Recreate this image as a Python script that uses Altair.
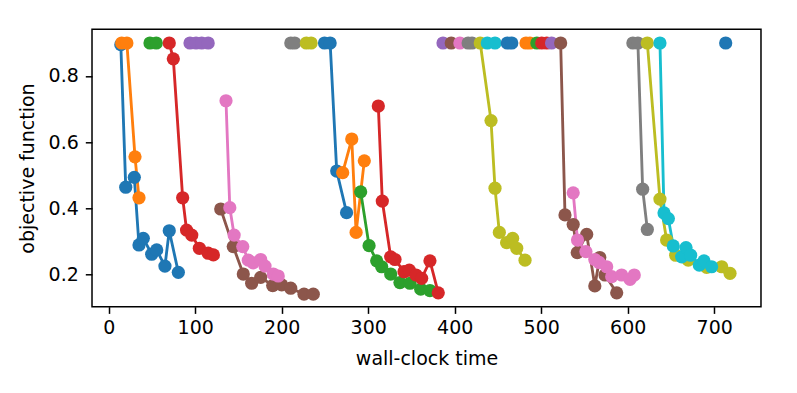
import altair as alt
import pandas as pd

# tab10 colours used for the trials
TAB10 = {
    "blue": "#1f77b4", "orange": "#ff7f0e", "green": "#2ca02c", "red": "#d62728",
    "purple": "#9467bd", "brown": "#8c564b", "pink": "#e377c2", "gray": "#7f7f7f",
    "olive": "#bcbd22", "cyan": "#17becf",
}

# each trial: colour, wall-clock times, objective values
T01_color = "blue"
T01_time = [14, 19.7, 29.6, 35, 40, 49.7, 55.5, 65, 70, 80.5]
T01_obj = [0.895, 0.463, 0.493, 0.288, 0.308, 0.26, 0.273, 0.224, 0.331, 0.205]

T02_color = "orange"
T02_time = [15, 21, 30.4, 35]
T02_obj = [0.9, 0.9, 0.555, 0.431]

T03_color = "green"
T03_time = [47.7, 55]
T03_obj = [0.9, 0.9]

T04_color = "red"
T04_time = [70, 74.7, 85.5, 90, 96, 104.8, 115, 121]
T04_obj = [0.9, 0.852, 0.431, 0.333, 0.318, 0.278, 0.263, 0.258]

T05_color = "purple"
T05_time = [94, 101, 107.5, 115]
T05_obj = [0.9, 0.9, 0.9, 0.9]

T06_color = "brown"
T06_time = [129.5, 144, 155.6, 165.3, 175.7, 189.6, 200, 210.4, 225.8, 236.5]
T06_obj = [0.397, 0.283, 0.2, 0.172, 0.19, 0.165, 0.167, 0.157, 0.139, 0.139]

T07_color = "pink"
T07_time = [135.6, 140, 145, 155, 161.4, 167, 175.7, 180.7, 190.3, 196]
T07_obj = [0.725, 0.401, 0.318, 0.283, 0.242, 0.234, 0.244, 0.224, 0.2, 0.194]

T08_color = "gray"
T08_time = [210.5, 215]
T08_obj = [0.9, 0.9]

T09_color = "olive"
T09_time = [228.5, 234]
T09_obj = [0.9, 0.9]

T10_color = "blue"
T10_time = [249.5, 256, 263.6, 275]
T10_obj = [0.9, 0.9, 0.512, 0.386]

T11_color = "orange"
T11_time = [270.5, 281, 286, 295.5]
T11_obj = [0.507, 0.609, 0.326, 0.543]

T12_color = "green"
T12_time = [291.3, 301, 309.8, 315.6, 326, 336.7, 348.3, 360.7, 371.4]
T12_obj = [0.449, 0.286, 0.24, 0.222, 0.2, 0.174, 0.172, 0.154, 0.15]

T13_color = "red"
T13_time = [311.7, 316.3, 326, 331, 341.4, 347.5, 355.3, 361.8, 371.4, 381]
T13_obj = [0.709, 0.421, 0.252, 0.244, 0.207, 0.212, 0.197, 0.187, 0.24, 0.143]

T14_color = "purple"
T14_time = [386.5]
T14_obj = [0.9]

T15_color = "brown"
T15_time = [396]
T15_obj = [0.9]

T16_color = "pink"
T16_time = [406]
T16_obj = [0.9]

T17_color = "gray"
T17_time = [415.5, 420]
T17_obj = [0.9, 0.9]

T18_color = "olive"
T18_time = [429.5, 442, 446.6, 451.6, 460, 467, 471.7, 481.3]
T18_obj = [0.9, 0.665, 0.46, 0.326, 0.295, 0.308, 0.278, 0.242]

T19_color = "cyan"
T19_time = [437.7, 446.6]
T19_obj = [0.9, 0.9]

T20_color = "blue"
T20_time = [460.8, 466]
T20_obj = [0.9, 0.9]

T21_color = "orange"
T21_time = [482.4, 487]
T21_obj = [0.9, 0.9]

T22_color = "green"
T22_time = [495]
T22_obj = [0.9]

T23_color = "red"
T23_time = [500.6, 506.4]
T23_obj = [0.9, 0.9]

T24_color = "purple"
T24_time = [512]
T24_obj = [0.9]

T25_color = "brown"
T25_time = [522.5, 527.5, 537, 541.7, 552.6, 562, 567.7, 573.8, 587.3]
T25_obj = [0.9, 0.379, 0.35, 0.265, 0.32, 0.164, 0.25, 0.197, 0.143]

T26_color = "pink"
T26_time = [537, 542, 551.7, 562, 567, 575.7, 581.5, 593, 602.7, 607.6]
T26_obj = [0.446, 0.303, 0.268, 0.244, 0.235, 0.222, 0.192, 0.197, 0.184, 0.197]

T27_color = "gray"
T27_time = [606, 611.8, 617.3, 622.7]
T27_obj = [0.9, 0.9, 0.457, 0.335]

T28_color = "olive"
T28_time = [622.7, 637.3, 645, 655.5, 670, 691.3, 708.7, 718.3]
T28_obj = [0.9, 0.427, 0.303, 0.257, 0.242, 0.22, 0.222, 0.202]

T29_color = "cyan"
T29_time = [637.3, 642, 647, 652.7, 662.4, 667.4, 672.8, 682.8, 688.2, 697]
T29_obj = [0.9, 0.385, 0.368, 0.285, 0.252, 0.28, 0.257, 0.227, 0.24, 0.222]

T30_color = "blue"
T30_time = [713.3]
T30_obj = [0.9]

x_ticks = [0, 100, 200, 300, 400, 500, 600, 700]
y_ticks = [0.2, 0.4, 0.6, 0.8]

trials = [
    (T01_color, T01_time, T01_obj), (T02_color, T02_time, T02_obj),
    (T03_color, T03_time, T03_obj), (T04_color, T04_time, T04_obj),
    (T05_color, T05_time, T05_obj), (T06_color, T06_time, T06_obj),
    (T07_color, T07_time, T07_obj), (T08_color, T08_time, T08_obj),
    (T09_color, T09_time, T09_obj), (T10_color, T10_time, T10_obj),
    (T11_color, T11_time, T11_obj), (T12_color, T12_time, T12_obj),
    (T13_color, T13_time, T13_obj), (T14_color, T14_time, T14_obj),
    (T15_color, T15_time, T15_obj), (T16_color, T16_time, T16_obj),
    (T17_color, T17_time, T17_obj), (T18_color, T18_time, T18_obj),
    (T19_color, T19_time, T19_obj), (T20_color, T20_time, T20_obj),
    (T21_color, T21_time, T21_obj), (T22_color, T22_time, T22_obj),
    (T23_color, T23_time, T23_obj), (T24_color, T24_time, T24_obj),
    (T25_color, T25_time, T25_obj), (T26_color, T26_time, T26_obj),
    (T27_color, T27_time, T27_obj), (T28_color, T28_time, T28_obj),
    (T29_color, T29_time, T29_obj), (T30_color, T30_time, T30_obj),
]

rows = []
for i, (c, ts, vs) in enumerate(trials):
    for t, v in zip(ts, vs):
        rows.append({"trial": i, "color": TAB10[c], "time": t, "objective": v})
df = pd.DataFrame(rows)

FONT = "DejaVu Sans"
W, H = 669, 277.4

base = alt.Chart(df).encode(
    x=alt.X(
        "time:Q",
        scale=alt.Scale(domain=[-19.3, 754.1], nice=False, zero=False),
        axis=alt.Axis(
            values=x_ticks, format="d", title="wall-clock time",
            titleX=W / 2, titleY=58.3, titleBaseline="alphabetic", titleAlign="center",
            labelPadding=5, labelFlush=False,
        ),
    ),
    y=alt.Y(
        "objective:Q",
        scale=alt.Scale(domain=[0.101, 0.9415], nice=False, zero=False),
        axis=alt.Axis(
            values=y_ticks, format=".1f", title="objective function",
            titleX=-58.5, titleY=H / 2, titleAngle=270, titleBaseline="alphabetic",
            titleAlign="center", labelPadding=7,
        ),
    ),
    color=alt.Color("color:N", scale=None, legend=None),
    detail="trial:N",
    order="trial:Q",
)

lines = base.mark_line(strokeWidth=2.85, clip=True)
points = base.mark_circle(size=175, opacity=1, clip=True)

chart = (
    alt.layer(lines, points)
    .properties(
        width=W, height=H,
        autosize=alt.AutoSizeParams(type="none"),
        padding={"left": 84, "top": 21.3, "right": 24, "bottom": 70},
        background="white",
    )
    .configure_view(stroke="black", strokeWidth=1.5, fill="white")
    .configure_axis(
        domain=False, grid=False, ticks=True,
        tickColor="black", tickWidth=1.5, tickSize=6.7,
        labelFont=FONT, labelFontSize=19, labelColor="black",
        titleFont=FONT, titleFontSize=19, titleFontWeight="normal", titleColor="black",
    )
)

chart.save("out.html", embed_options={"renderer": "svg", "actions": False})
